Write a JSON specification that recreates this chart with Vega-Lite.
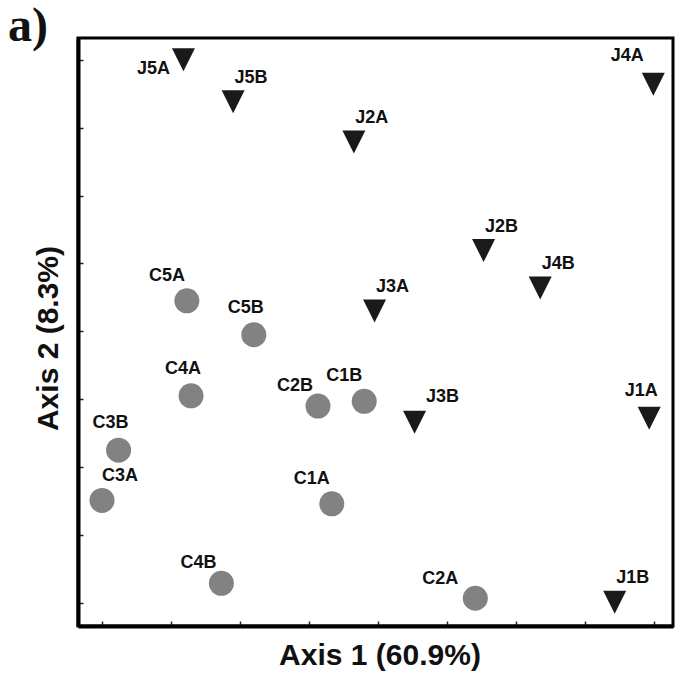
{
  "$schema": "https://vega.github.io/schema/vega-lite/v6.json",
  "autosize": "none",
  "width": 595,
  "height": 588,
  "padding": {"left": 78, "top": 38, "right": 2, "bottom": 50},
  "background": "white",
  "title": {"text": "a)", "font": "Liberation Serif", "fontSize": 48, "fontWeight": "bold", "color": "#111111", "anchor": "start", "frame": "group", "offset": 0, "dx": -70, "dy": 51, "baseline": "alphabetic"},
  "config": {
    "view": {"stroke": "#000000", "strokeWidth": 3},
    "axis": {"grid": false, "labels": false, "domainColor": "#000000", "domainWidth": 4, "tickColor": "#222222", "tickWidth": 1.5, "tickSize": -5, "titleFont": "Liberation Sans", "titleFontSize": 30, "titleFontWeight": "bold", "titleColor": "#111111"}
  },
  "data": {"values": [
    {"label": "C5A", "group": "C", "x": 1.23, "y": 4.45},
    {"label": "C5B", "group": "C", "x": 2.20, "y": 3.95},
    {"label": "C4A", "group": "C", "x": 1.29, "y": 3.05},
    {"label": "C2B", "group": "C", "x": 3.13, "y": 2.90},
    {"label": "C1B", "group": "C", "x": 3.80, "y": 2.97},
    {"label": "C3B", "group": "C", "x": 0.24, "y": 2.25},
    {"label": "C3A", "group": "C", "x": 0.00, "y": 1.51},
    {"label": "C1A", "group": "C", "x": 3.33, "y": 1.46},
    {"label": "C4B", "group": "C", "x": 1.73, "y": 0.29},
    {"label": "C2A", "group": "C", "x": 5.41, "y": 0.07},
    {"label": "J5A", "group": "J", "x": 1.18, "y": 8.00},
    {"label": "J5B", "group": "J", "x": 1.90, "y": 7.38},
    {"label": "J2A", "group": "J", "x": 3.65, "y": 6.79},
    {"label": "J4A", "group": "J", "x": 7.99, "y": 7.64},
    {"label": "J2B", "group": "J", "x": 5.53, "y": 5.19},
    {"label": "J4B", "group": "J", "x": 6.35, "y": 4.64},
    {"label": "J3A", "group": "J", "x": 3.95, "y": 4.30},
    {"label": "J3B", "group": "J", "x": 4.53, "y": 2.66},
    {"label": "J1A", "group": "J", "x": 7.93, "y": 2.72},
    {"label": "J1B", "group": "J", "x": 7.43, "y": 0.01}
  ]},
  "encoding": {
    "x": {"field": "x", "type": "quantitative", "scale": {"domain": [-0.348, 8.275], "nice": false, "zero": false}, "axis": {"title": "Axis 1 (60.9%)", "values": [0,1,2,3,4,5,6,7,8], "titlePadding": 14, "titleX": 301.5}},
    "y": {"field": "y", "type": "quantitative", "scale": {"domain": [-0.339, 8.32], "nice": false, "zero": false}, "axis": {"title": "Axis 2 (8.3%)", "values": [0,1,2,3,4,5,6,7,8], "titlePadding": 14, "titleY": 300}}
  },
  "layer": [
    {
      "mark": {"type": "point", "filled": true, "opacity": 1, "strokeWidth": 0},
      "encoding": {
        "shape": {"field": "group", "type": "nominal", "scale": {"domain": ["C", "J"], "range": ["circle", "M-1,-1L1,-1L0,1Z"]}, "legend": null},
        "color": {"field": "group", "type": "nominal", "scale": {"domain": ["C", "J"], "range": ["#828282", "#1a1a1a"]}, "legend": null},
        "size": {"field": "group", "type": "nominal", "scale": {"domain": ["C", "J"], "range": [625, 529]}, "legend": null}
      }
    },
    {
      "transform": [{"filter": {"field": "label", "oneOf": ["J5B", "J2A", "J2B", "J4B", "J1B", "C3A", "J3A"]}}],
      "mark": {"type": "text", "font": "Liberation Sans", "fontSize": 18, "fontWeight": "bold", "color": "#111111", "dx": 18, "dy": -24},
      "encoding": {"text": {"field": "label"}}
    },
    {
      "transform": [{"filter": {"field": "label", "oneOf": ["J3B"]}}],
      "mark": {"type": "text", "font": "Liberation Sans", "fontSize": 18, "fontWeight": "bold", "color": "#111111", "dx": 28, "dy": -25},
      "encoding": {"text": {"field": "label"}}
    },
    {
      "transform": [{"filter": {"field": "label", "oneOf": ["C5A", "C1B", "C1A"]}}],
      "mark": {"type": "text", "font": "Liberation Sans", "fontSize": 18, "fontWeight": "bold", "color": "#111111", "dx": -20, "dy": -25},
      "encoding": {"text": {"field": "label"}}
    },
    {
      "transform": [{"filter": {"field": "label", "oneOf": ["C2B", "C4B"]}}],
      "mark": {"type": "text", "font": "Liberation Sans", "fontSize": 18, "fontWeight": "bold", "color": "#111111", "dx": -23, "dy": -20},
      "encoding": {"text": {"field": "label"}}
    },
    {
      "transform": [{"filter": {"field": "label", "oneOf": ["J4A"]}}],
      "mark": {"type": "text", "font": "Liberation Sans", "fontSize": 18, "fontWeight": "bold", "color": "#111111", "dx": -26, "dy": -28},
      "encoding": {"text": {"field": "label"}}
    },
    {
      "transform": [{"filter": {"field": "label", "oneOf": ["C5B", "C4A", "C3B", "J1A"]}}],
      "mark": {"type": "text", "font": "Liberation Sans", "fontSize": 18, "fontWeight": "bold", "color": "#111111", "dx": -8, "dy": -27},
      "encoding": {"text": {"field": "label"}}
    },
    {
      "transform": [{"filter": {"field": "label", "oneOf": ["J5A"]}}],
      "mark": {"type": "text", "font": "Liberation Sans", "fontSize": 18, "fontWeight": "bold", "color": "#111111", "dx": -30, "dy": 9},
      "encoding": {"text": {"field": "label"}}
    },
    {
      "transform": [{"filter": {"field": "label", "oneOf": ["C2A"]}}],
      "mark": {"type": "text", "font": "Liberation Sans", "fontSize": 18, "fontWeight": "bold", "color": "#111111", "dx": -35, "dy": -19},
      "encoding": {"text": {"field": "label"}}
    }
  ]
}
